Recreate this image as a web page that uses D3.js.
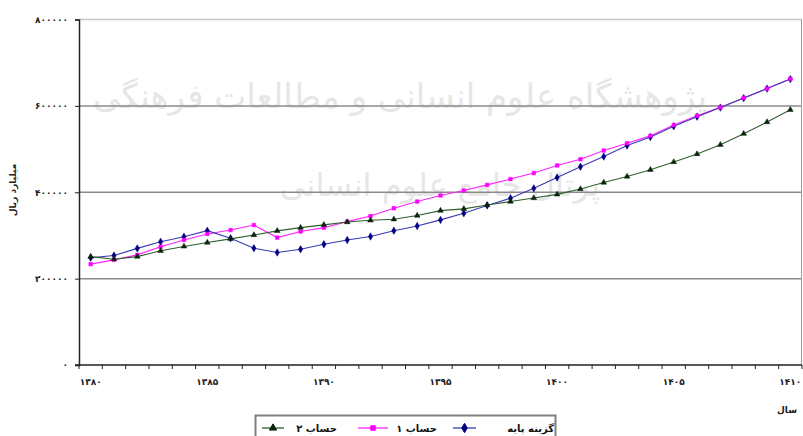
<!DOCTYPE html>
<html><head><meta charset="utf-8">
<script src="https://cdn.jsdelivr.net/npm/d3@7"></script>
<style>body{margin:0;background:#fff}svg{display:block}</style>
</head><body><svg id="c" width="803" height="436"></svg>
<script>
const years=[1380,1381,1382,1383,1384,1385,1386,1387,1388,1389,1390,1391,1392,1393,1394,1395,1396,1397,1398,1399,1400,1401,1402,1403,1404,1405,1406,1407,1408,1409,1410];
const xLabelYears=[1380,1385,1390,1395,1400,1405,1410];
const yTicks=[0,200000,400000,600000,800000];
const baseCase=[248500,253500,270000,285500,297000,311000,293500,270500,260500,268000,279500,289500,297500,311000,322000,336000,351500,369500,386000,409000,434000,459000,482500,508000,528000,553000,575000,596000,618000,640000,662000];
const scenario1=[233500,243500,255000,274000,289500,303500,312500,324000,295000,309000,318000,332000,345000,363000,378500,392500,404000,417000,430500,444500,462000,476500,496500,513500,530500,555500,577000,596500,618500,640000,662500];
const scenario2=[251000,245000,251000,264500,274500,283500,292000,301000,310500,318000,324500,331000,335000,337500,346000,357500,361500,370500,378500,386500,395000,407500,422500,436500,452000,470000,488500,510000,535500,562500,591000];
const seriesNames=["گزینه پایه","حساب ۱","حساب ۲"];
const yTitle="میلیارد ریال";
const xTitle="سال";
const wm1="پژوهشگاه علوم انسانی و مطالعات فرهنگی";
const wm2="پرتال جامع علوم انسانی";

const fa=s=>String(s).replace(/\d/g,d=>"۰۱۲۳۴۵۶۷۸۹"[d]);
const svg=d3.select("#c");
const L=79,R=802,T=19.5,B=365;
const x=d3.scaleBand().domain(years).range([L,R]);
const y=d3.scaleLinear().domain([0,800000]).range([B,T]);
const cx=d=>x(d)+x.bandwidth()/2;
const font="DejaVu Sans, sans-serif";

// watermark
svg.append("text").attr("x",400).attr("y",108).attr("text-anchor","middle")
  .attr("font-family",font).attr("font-size",34).attr("fill","#e6e6e6")
  .attr("direction","rtl").text(wm1);
svg.append("text").attr("x",440).attr("y",196).attr("text-anchor","middle")
  .attr("font-family",font).attr("font-size",32).attr("fill","#e6e6e6")
  .attr("direction","rtl").text(wm2);

// grid
svg.append("g").selectAll("line").data(yTicks.filter(d=>d>0)).join("line")
  .attr("x1",L).attr("x2",R).attr("y1",d=>y(d)).attr("y2",d=>y(d))
  .attr("stroke",d=>d===800000?"#c8c8c8":"#8a8a8a").attr("stroke-width",1.5);
// right border
svg.append("line").attr("x1",R-0.5).attr("x2",R-0.5).attr("y1",T).attr("y2",B).attr("stroke","#9a9a9a").attr("stroke-width",1);

// y axis
const ya=svg.append("g").attr("transform",`translate(${L},0)`)
  .call(d3.axisLeft(y).tickValues(yTicks).tickSize(4).tickPadding(7).tickFormat(fa));
ya.select(".domain").attr("stroke","#222").attr("stroke-width",1.5);
ya.selectAll(".tick line").attr("stroke","#222");
ya.selectAll("text").attr("font-family",font).attr("font-size",9).attr("font-weight","bold").attr("fill","#222");

// x axis
const bounds=years.map(d=>x(d)).concat([x.range()[1]]);
svg.append("g").selectAll("line").data(bounds).join("line")
  .attr("x1",d=>d).attr("x2",d=>d).attr("y1",B).attr("y2",B+4).attr("stroke","#222");
svg.append("line").attr("x1",L-4).attr("x2",R).attr("y1",B).attr("y2",B).attr("stroke","#222").attr("stroke-width",1.5);
svg.append("g").selectAll("text").data(xLabelYears).join("text")
  .attr("x",d=>cx(d)).attr("y",B+20).attr("text-anchor","middle")
  .attr("font-family",font).attr("font-size",9).attr("font-weight","bold").attr("fill","#222").text(fa);

// titles
svg.append("text").attr("transform","translate(16,190) rotate(-90)").attr("text-anchor","middle")
  .attr("font-family",font).attr("font-size",9).attr("font-weight","bold").attr("fill","#222").text(yTitle);
svg.append("text").attr("x",787).attr("y",413).attr("text-anchor","middle")
  .attr("font-family",font).attr("font-size",9).attr("font-weight","bold").attr("fill","#222").text(xTitle);

// series
const series=[
  {name:seriesNames[0],vals:baseCase,line:"#3a3ab0",mk:"#000080",sym:d3.symbolDiamond,size:16},
  {name:seriesNames[1],vals:scenario1,line:"#ff22ff",mk:"#ff00ff",sym:d3.symbolSquare,size:13},
  {name:seriesNames[2],vals:scenario2,line:"#2f5f2f",mk:"#0b240b",sym:d3.symbolTriangle,size:14}
];
const line=d3.line().x((d,i)=>cx(years[i])).y(d=>y(d));
[1,0,2].forEach(k=>{
  const s=series[k];
  svg.append("path").attr("d",line(s.vals)).attr("fill","none").attr("stroke",s.line).attr("stroke-width",1.1);
});
[0,1,2].forEach(k=>{
  const s=series[k];
  svg.append("g").selectAll("path").data(s.vals).join("path")
    .attr("transform",(d,i)=>`translate(${cx(years[i])},${y(d)})`)
    .attr("d",d3.symbol().type(s.sym).size(s.size)).attr("fill",s.mk).attr("stroke",s.mk).attr("stroke-width",0.5);
});

// legend
const lg=svg.append("g");
lg.append("rect").attr("x",255.5).attr("y",415.5).attr("width",300).attr("height",26)
  .attr("fill","#fff").attr("stroke","#808080").attr("stroke-width",2);
const items=[
  {s:series[2],x1:262,x2:284,tx:337},
  {s:series[1],x1:358,x2:388,tx:437},
  {s:series[0],x1:453,x2:476,tx:554}
];
items.forEach(it=>{
  const yy=428;
  lg.append("line").attr("x1",it.x1).attr("x2",it.x2).attr("y1",yy).attr("y2",yy).attr("stroke",it.s.line).attr("stroke-width",1.3);
  lg.append("path").attr("transform",`translate(${(it.x1+it.x2)/2},${yy})`)
    .attr("d",d3.symbol().type(it.s.sym).size(it.s.size*1.6)).attr("fill",it.s.mk).attr("stroke",it.s.mk);
  lg.append("text").attr("x",it.tx).attr("y",yy+3.5).attr("text-anchor","end").attr("direction","ltr")
    .attr("font-family",font).attr("font-size",10).attr("font-weight","bold").attr("fill","#111").text(it.s.name);
});
</script></body></html>
